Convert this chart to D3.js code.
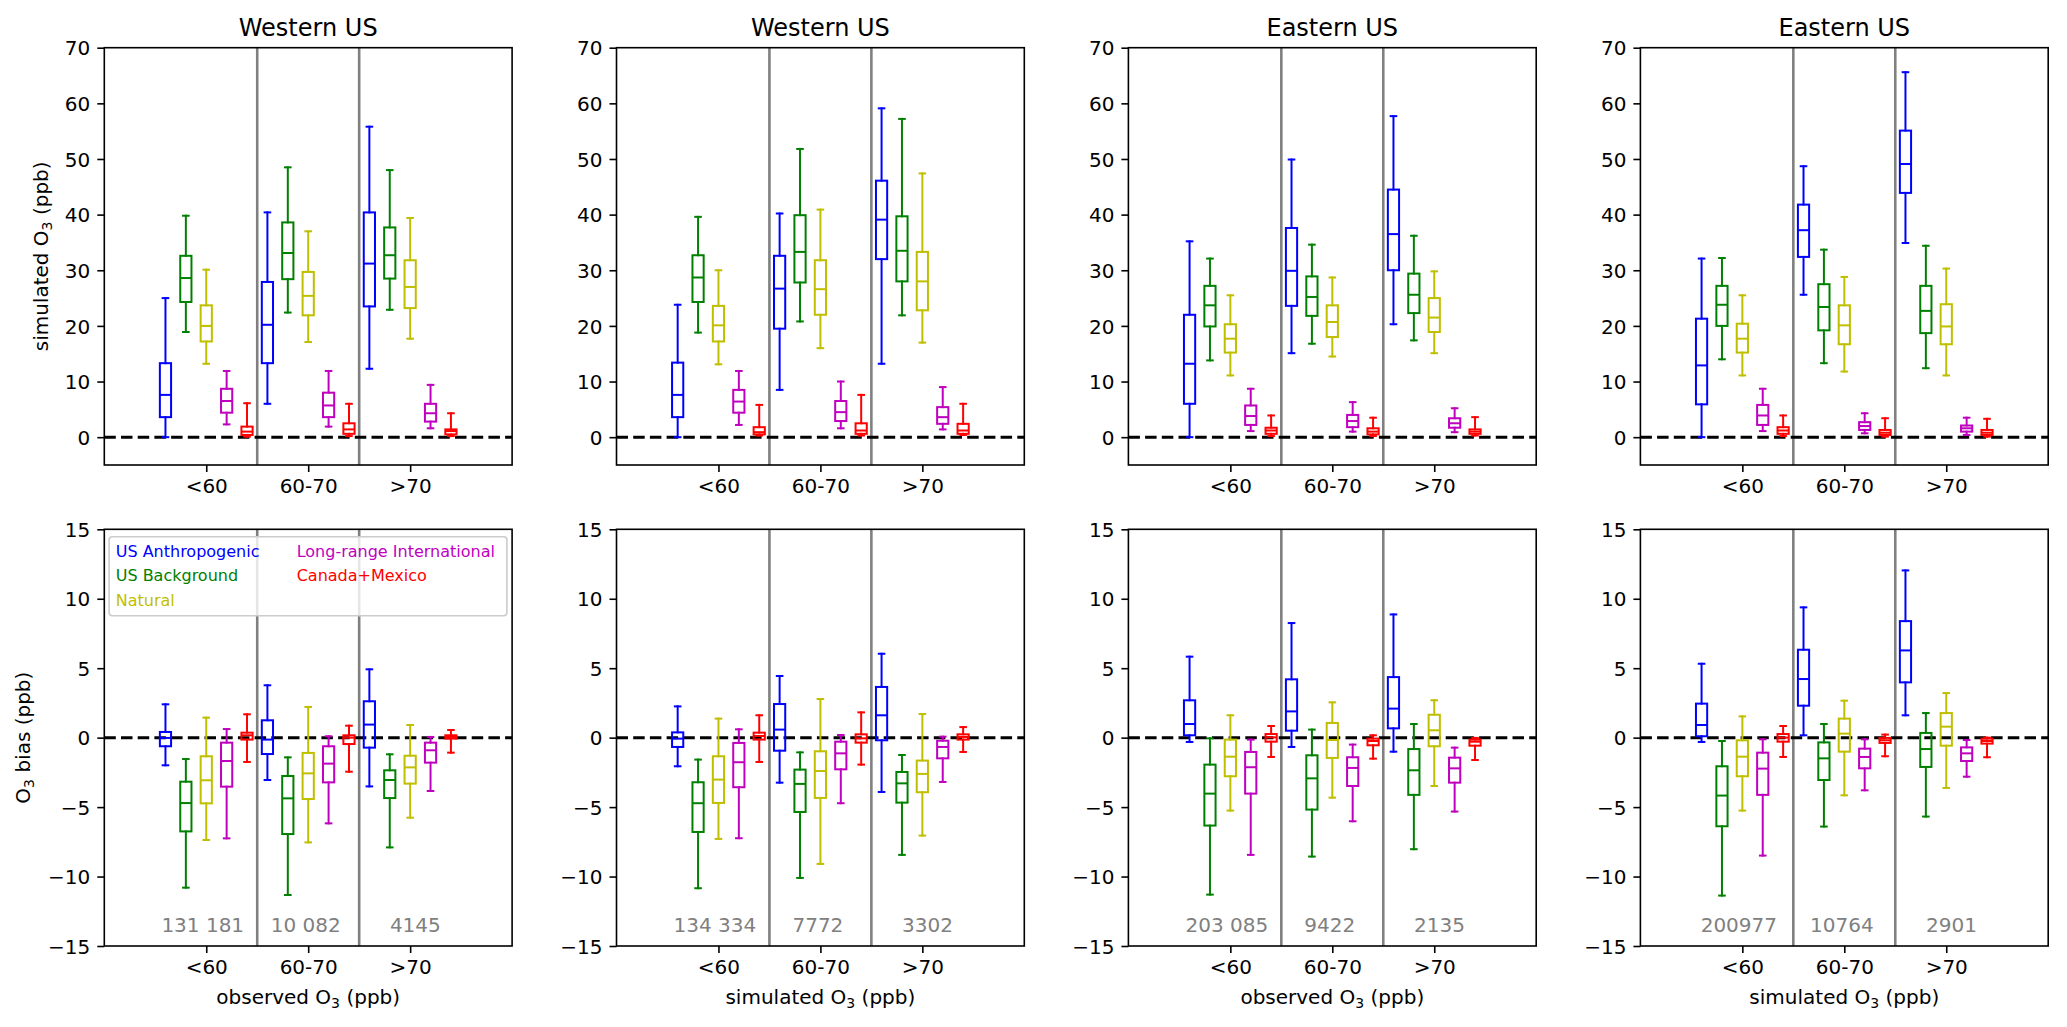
<!DOCTYPE html>
<html>
<head>
<meta charset="utf-8">
<script src="https://cdn.jsdelivr.net/npm/d3@7"></script>
<style>
  html, body { margin: 0; padding: 0; background: #ffffff; }
  svg { display: block; }
</style>
</head>
<body>
<script>
// ---------------- DATA ----------------
const categories = ["<60", "60-70", ">70"];
const sources = ["US Anthropogenic", "US Background", "Natural", "Long-range International", "Canada+Mexico"];
const sourceColors = ["#0000ff", "#008000", "#bfbf00", "#bf00bf", "#ff0000"];
const panelTitles = ["Western US", "Western US", "Eastern US", "Eastern US"];
const xAxisLabels = ["observed", "simulated", "observed", "simulated"];
const topTicks = [0, 10, 20, 30, 40, 50, 60, 70];
const biasTicks = [-15, -10, -5, 0, 5, 10, 15];

// sample counts per bin, as printed
const countsWestObs = ["131 181", "10 082", "4145"];
const countsWestSim = ["134 334", "7772", "3302"];
const countsEastObs = ["203 085", "9422", "2135"];
const countsEastSim = ["200977", "10764", "2901"];

// box statistics: [category][source] = [whisker low, q1, median, q3, whisker high]
// simulated O3 contributions (ppb)
const o3WestObs = [
  [[0, 3.6, 7.6, 13.3, 25.0], [18.9, 24.3, 28.6, 32.6, 39.8], [13.2, 17.2, 20.0, 23.7, 30.1], [2.3, 4.4, 6.5, 8.7, 11.9], [0.1, 0.4, 1.0, 1.9, 6.1]],
  [[6.0, 13.3, 20.2, 27.9, 40.4], [22.4, 28.4, 33.1, 38.6, 48.5], [17.1, 21.9, 25.4, 29.7, 37.0], [1.9, 3.6, 5.7, 8.0, 11.9], [0.2, 0.6, 1.4, 2.5, 6.0]],
  [[12.3, 23.5, 31.2, 40.4, 55.8], [22.9, 28.5, 32.7, 37.7, 48.0], [17.7, 23.2, 27.0, 31.8, 39.4], [1.6, 2.8, 4.3, 6.0, 9.4], [0.2, 0.5, 1.1, 1.4, 4.3]]
];
const o3WestSim = [
  [[0, 3.6, 7.6, 13.4, 23.8], [18.8, 24.3, 28.7, 32.7, 39.6], [13.1, 17.2, 20.1, 23.6, 30.0], [2.2, 4.4, 6.4, 8.5, 11.9], [0.3, 0.5, 0.9, 1.8, 5.8]],
  [[8.5, 19.5, 26.7, 32.6, 40.2], [20.8, 27.8, 33.3, 39.9, 51.8], [16.0, 22.0, 26.6, 31.8, 40.9], [1.6, 2.9, 4.5, 6.5, 10.0], [0.3, 0.6, 1.2, 2.5, 7.6]],
  [[13.2, 32.0, 39.1, 46.1, 59.1], [21.9, 28.0, 33.5, 39.7, 57.2], [17.0, 22.8, 28.0, 33.3, 47.4], [1.4, 2.4, 3.6, 5.4, 9.0], [0.4, 0.6, 1.2, 2.4, 6.0]]
];
const o3EastObs = [
  [[0, 6.0, 13.2, 22.0, 35.2], [13.8, 19.9, 23.7, 27.2, 32.1], [11.1, 15.2, 17.7, 20.3, 25.5], [1.1, 2.2, 3.8, 5.7, 8.7], [0.2, 0.6, 1.2, 1.7, 3.9]],
  [[15.1, 23.6, 29.9, 37.6, 49.9], [16.8, 21.8, 25.2, 28.9, 34.6], [14.5, 18.0, 20.7, 23.7, 28.7], [1.0, 1.8, 2.9, 4.0, 6.3], [0.2, 0.5, 1.0, 1.6, 3.5]],
  [[20.3, 30.0, 36.5, 44.5, 57.7], [17.4, 22.3, 25.6, 29.4, 36.2], [15.1, 18.9, 21.5, 25.0, 29.8], [0.9, 1.7, 2.5, 3.4, 5.2], [0.3, 0.6, 1.0, 1.4, 3.6]]
];
const o3EastSim = [
  [[0, 5.9, 12.9, 21.3, 32.1], [14.0, 20.0, 23.8, 27.2, 32.2], [11.1, 15.2, 17.7, 20.4, 25.5], [1.1, 2.2, 3.9, 5.8, 8.7], [0.2, 0.6, 1.2, 1.8, 3.9]],
  [[25.6, 32.4, 37.2, 41.8, 48.7], [13.3, 19.2, 23.4, 27.5, 33.7], [11.8, 16.7, 20.1, 23.7, 28.8], [0.7, 1.3, 2.0, 2.7, 4.3], [0.1, 0.4, 0.8, 1.3, 3.4]],
  [[34.9, 43.9, 49.1, 55.1, 65.6], [12.4, 18.7, 22.7, 27.2, 34.4], [11.1, 16.7, 19.9, 23.9, 30.3], [0.4, 1.0, 1.6, 2.1, 3.5], [0.1, 0.4, 0.8, 1.3, 3.3]]
];
// O3 bias (ppb)
const biasWestObs = [
  [[-1.99, -0.62, -0.02, 0.41, 2.40], [-10.8, -6.75, -4.71, -3.17, -1.54], [-7.37, -4.73, -3.07, -1.34, 1.44], [-7.25, -3.53, -1.68, -0.36, 0.62], [-1.75, -0.14, 0.17, 0.36, 1.68]],
  [[-3.05, -1.18, -0.14, 1.25, 3.77], [-11.33, -6.94, -4.37, -2.76, -1.42], [-7.54, -4.42, -2.57, -1.10, 2.21], [-6.17, -3.22, -1.87, -0.62, 0.10], [-2.45, -0.46, 0.0, 0.17, 0.86]],
  [[-3.51, -0.72, 0.94, 2.62, 4.92], [-7.90, -4.35, -3.05, -2.35, -1.20], [-5.76, -3.31, -2.14, -1.30, 0.91], [-3.84, -1.80, -0.91, -0.36, 0.05], [-1.08, -0.07, 0.05, 0.17, 0.55]]
];
const biasWestSim = [
  [[-2.06, -0.67, -0.07, 0.38, 2.25], [-10.84, -6.79, -4.72, -3.21, -1.58], [-7.29, -4.70, -3.02, -1.34, 1.37], [-7.24, -3.57, -1.77, -0.38, 0.60], [-1.75, -0.14, 0.12, 0.36, 1.61]],
  [[-3.24, -0.94, 0.58, 2.42, 4.44], [-10.1, -5.35, -3.33, -2.30, -1.06], [-9.09, -4.34, -2.40, -0.98, 2.78], [-4.72, -2.28, -1.13, -0.29, 0.19], [-1.94, -0.36, -0.05, 0.24, 1.82]],
  [[-3.91, -0.19, 1.61, 3.65, 6.04], [-8.44, -4.68, -3.29, -2.47, -1.25], [-7.05, -3.93, -2.61, -1.65, 1.70], [-3.19, -1.49, -0.67, -0.22, 0.07], [-1.03, -0.14, 0.05, 0.24, 0.76]]
];
const biasEastObs = [
  [[-0.31, 0.17, 0.98, 2.69, 5.83], [-11.3, -6.33, -4.03, -1.94, -0.05], [-5.25, -2.78, -1.37, -0.14, 1.61], [-8.44, -4.03, -2.13, -1.03, -0.14], [-1.39, -0.29, 0.02, 0.26, 0.84]],
  [[-0.67, 0.50, 1.89, 4.20, 8.25], [-8.56, -5.18, -2.93, -1.27, 0.58], [-4.32, -1.46, -0.17, 1.06, 2.54], [-6.02, -3.48, -2.18, -1.41, -0.50], [-1.51, -0.55, -0.24, -0.07, 0.17]],
  [[-1.01, 0.67, 2.09, 4.36, 8.87], [-8.03, -4.12, -2.35, -0.82, 0.98], [-3.48, -0.62, 0.53, 1.65, 2.69], [-5.32, -3.24, -2.21, -1.44, -0.72], [-1.61, -0.58, -0.29, -0.14, -0.02]]
];
const biasEastSim = [
  [[-0.31, 0.10, 0.91, 2.45, 5.32], [-11.37, -6.38, -4.17, -2.06, -0.24], [-5.25, -2.78, -1.37, -0.19, 1.53], [-8.49, -4.12, -2.23, -1.08, -0.12], [-1.39, -0.29, 0.0, 0.26, 0.84]],
  [[0.17, 2.30, 4.22, 6.33, 9.38], [-6.40, -3.05, -1.49, -0.34, 0.98], [-4.15, -1.01, 0.29, 1.37, 2.66], [-3.79, -2.21, -1.39, -0.79, -0.12], [-1.34, -0.38, -0.19, -0.02, 0.22]],
  [[1.61, 3.98, 6.28, 8.39, 12.04], [-5.68, -2.11, -0.82, 0.34, 1.77], [-3.62, -0.58, 0.79, 1.77, 3.21], [-2.81, -1.68, -1.13, -0.70, -0.17], [-1.41, -0.43, -0.24, -0.07, 0.0]]
];

const topStats = [o3WestObs, o3WestSim, o3EastObs, o3EastSim];
const biasStats = [biasWestObs, biasWestSim, biasEastObs, biasEastSim];
const panelCounts = [countsWestObs, countsWestSim, countsEastObs, countsEastSim];

// ---------------- LAYOUT ----------------
const W = 2067, H = 1027;
const FONT = "'DejaVu Sans', sans-serif";
const panelLefts = [104.3, 616.5, 1128.4, 1640.4];
const panelW = 407.8;
const rowsY = [{ y0: 47.7, y1: 465.0 }, { y0: 529.3, y1: 946.0 }];
const offsets = [-0.4, -0.2, 0, 0.2, 0.4];
const boxW = 0.11;
const countShift = [-3.5, -2.5, 5.2];

const svg = d3.select("body").append("svg")
  .attr("width", W).attr("height", H)
  .attr("font-family", FONT);
svg.append("rect").attr("width", W).attr("height", H).attr("fill", "#ffffff");

function addSubText(sel, parts, size) {
  // parts: [before, subscript, after]
  sel.append("tspan").text(parts[0]);
  sel.append("tspan").attr("font-size", size * 0.7).attr("dy", size * 0.2).text(parts[1]);
  sel.append("tspan").attr("dy", -size * 0.2).text(parts[2]);
}

function drawPanel(col, row, stats, domain, ticks) {
  const L = panelLefts[col];
  const { y0, y1 } = rowsY[row];
  const x = d3.scaleLinear().domain([0, 4]).range([L, L + panelW]);
  const y = d3.scaleLinear().domain(domain).range([y1, y0]);
  const g = svg.append("g");

  // bin separators
  [1.5, 2.5].forEach(s => {
    g.append("line")
      .attr("x1", x(s)).attr("x2", x(s)).attr("y1", y0).attr("y2", y1)
      .attr("stroke", "#808080").attr("stroke-width", 2.6);
  });

  // zero line
  g.append("line")
    .attr("x1", L).attr("x2", L + panelW).attr("y1", y(0)).attr("y2", y(0))
    .attr("stroke", "#000000").attr("stroke-width", 3)
    .attr("stroke-dasharray", "11.5,5.2");

  // boxes
  const bw = x(boxW) - x(0);
  stats.forEach((catStats, ci) => {
    catStats.forEach((st, si) => {
      const [lo, q1, med, q3, hi] = st;
      const cx = x(ci + 1 + offsets[si]);
      const c = sourceColors[si];
      const bg = g.append("g").attr("stroke", c).attr("stroke-width", 2).attr("fill", "none");
      bg.append("line").attr("x1", cx).attr("x2", cx).attr("y1", y(q1)).attr("y2", y(lo)).attr("stroke-linecap", "square");
      bg.append("line").attr("x1", cx).attr("x2", cx).attr("y1", y(q3)).attr("y2", y(hi)).attr("stroke-linecap", "square");
      bg.append("line").attr("x1", cx - bw / 4).attr("x2", cx + bw / 4).attr("y1", y(lo)).attr("y2", y(lo)).attr("stroke-linecap", "square");
      bg.append("line").attr("x1", cx - bw / 4).attr("x2", cx + bw / 4).attr("y1", y(hi)).attr("y2", y(hi)).attr("stroke-linecap", "square");
      bg.append("rect").attr("x", cx - bw / 2).attr("y", y(q3)).attr("width", bw).attr("height", Math.max(0, y(q1) - y(q3)));
      bg.append("line").attr("x1", cx - bw / 2).attr("x2", cx + bw / 2).attr("y1", y(med)).attr("y2", y(med));
    });
  });

  // axes
  const ya = g.append("g").attr("transform", `translate(${L},0)`)
    .call(d3.axisLeft(y).tickValues(ticks).tickSize(7).tickPadding(7).tickFormat(d3.format("d")));
  const xa = g.append("g").attr("transform", `translate(0,${y1})`)
    .call(d3.axisBottom(x).tickValues([1, 2, 3]).tickSize(7).tickPadding(7).tickFormat((d, i) => categories[i]));
  [ya, xa].forEach(a => {
    a.select(".domain").remove();
    a.selectAll(".tick line").attr("stroke", "#000").attr("stroke-width", 1.6);
    a.selectAll(".tick text").attr("font-size", 20).attr("font-family", FONT).attr("fill", "#000");
  });
  ya.selectAll(".tick text").attr("dy", "0.36em");

  // frame
  g.append("rect").attr("x", L).attr("y", y0).attr("width", panelW).attr("height", y1 - y0)
    .attr("fill", "none").attr("stroke", "#000").attr("stroke-width", 1.6);

  return { x, y, L, y0, y1 };
}

for (let col = 0; col < 4; col++) {
  const pTop = drawPanel(col, 0, topStats[col], [-5, 70], topTicks);
  const pBot = drawPanel(col, 1, biasStats[col], [-15, 15], biasTicks);
  const cxMid = pTop.L + panelW / 2;

  // title
  svg.append("text").attr("x", cxMid).attr("y", 35.5).attr("text-anchor", "middle")
    .attr("font-size", 24).attr("fill", "#000").text(panelTitles[col]);

  // counts
  panelCounts[col].forEach((t, ci) => {
    svg.append("text")
      .attr("x", pBot.x(ci + 1) + countShift[ci]).attr("y", pBot.y(-14))
      .attr("text-anchor", "middle").attr("font-size", 20).attr("fill", "#808080")
      .text(t);
  });

  // x label
  const xl = svg.append("text").attr("x", cxMid).attr("y", 1003.5).attr("text-anchor", "middle")
    .attr("font-size", 20).attr("fill", "#000");
  addSubText(xl, [xAxisLabels[col] + " O", "3", " (ppb)"], 20);

  if (col === 0) {
    const yl1 = svg.append("text")
      .attr("transform", `translate(48,${(rowsY[0].y0 + rowsY[0].y1) / 2}) rotate(-90)`)
      .attr("text-anchor", "middle").attr("font-size", 20).attr("fill", "#000");
    addSubText(yl1, ["simulated O", "3", " (ppb)"], 20);
    const yl2 = svg.append("text")
      .attr("transform", `translate(30,${(rowsY[1].y0 + rowsY[1].y1) / 2}) rotate(-90)`)
      .attr("text-anchor", "middle").attr("font-size", 20).attr("fill", "#000");
    addSubText(yl2, ["O", "3", " bias (ppb)"], 20);

    // legend
    const lg = svg.append("g").attr("transform", `translate(${pBot.L},${pBot.y0})`);
    lg.append("rect").attr("x", 4.8).attr("y", 7.4).attr("width", 397.8).attr("height", 79)
      .attr("rx", 3.2).attr("ry", 3.2)
      .attr("fill", "#ffffff").attr("fill-opacity", 0.8)
      .attr("stroke", "#cccccc").attr("stroke-width", 1.6);
    const colX = [11.4, 192.4];
    const rowYs = [27.5, 51.8, 76.5];
    sources.forEach((s, i) => {
      const c = i < 3 ? 0 : 1;
      const r = i < 3 ? i : i - 3;
      lg.append("text").attr("x", colX[c]).attr("y", rowYs[r])
        .attr("font-size", 16).attr("fill", sourceColors[i]).text(s);
    });
  }
}
</script>
</body>
</html>
